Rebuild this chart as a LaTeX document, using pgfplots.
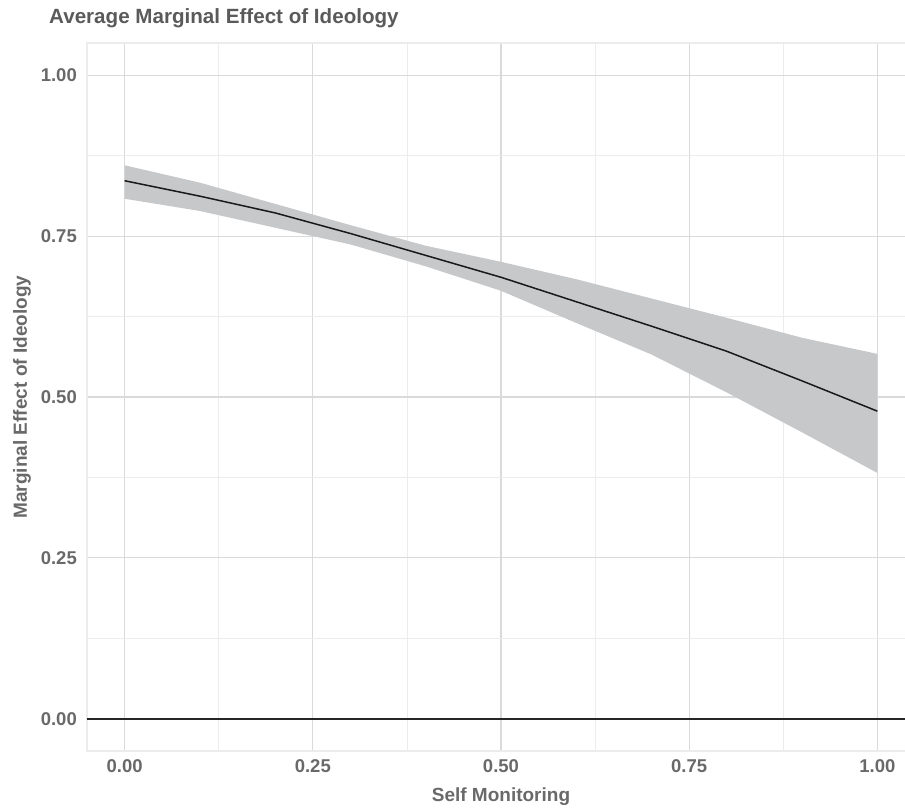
\documentclass[border=0pt]{standalone}
\usepackage{pgfplots}
\pgfplotsset{compat=1.18}
\usepackage{fontspec}
\setmainfont{Liberation Sans}
\definecolor{txt}{RGB}{105,105,105}
\definecolor{ttl}{RGB}{90,90,90}
\definecolor{majg}{RGB}{218,218,218}
\definecolor{ming}{RGB}{236,236,236}
\definecolor{band}{RGB}{199,200,202}
\begin{document}
\begin{tikzpicture}[x=1pt,y=1pt]
\path[use as bounding box] (-87,-57) rectangle (818,751);
\begin{axis}[
  at={(0,0)}, anchor=south west,
  scale only axis, width=828pt, height=708pt,
  xmin=-0.05, xmax=1.05, ymin=-0.05, ymax=1.05,
  xtick={0,0.25,0.5,0.75,1}, ytick={0,0.25,0.5,0.75,1},
  minor xtick={0.125,0.375,0.625,0.875}, minor ytick={0.125,0.375,0.625,0.875},
  xticklabels={0.00,0.25,0.50,0.75,1.00},
  yticklabels={0.00,0.25,0.50,0.75,1.00},
  major tick length=0pt, minor tick length=0pt,
  grid=both,
  major grid style={draw=majg, line width=1.1pt},
  minor grid style={draw=ming, line width=0.7pt},
  axis line style={draw=ming, line width=1.5pt},
  ticklabel style={font=\fontsize{18.5}{22}\selectfont\bfseries, text=txt},
  yticklabel style={anchor=east, inner xsep=0pt, xshift=-10pt},
  xticklabel style={anchor=north, inner ysep=0pt, yshift=-8pt},
  xlabel={Self Monitoring},
  ylabel={Marginal Effect of Ideology},
  label style={font=\fontsize{19}{22}\selectfont\bfseries, text=txt},
  xlabel style={at={(axis description cs:0.5,0)}, anchor=base, yshift=-51pt},
  ylabel style={at={(axis description cs:0,0.5)}, anchor=base, yshift=60pt},
  clip=true,
]
% confidence band: upper then lower reversed
\addplot[fill=band, draw=none] coordinates {
  (0.0,0.860) (0.1,0.833) (0.2,0.800) (0.3,0.767) (0.4,0.735) (0.5,0.710)
  (0.6,0.683) (0.7,0.653) (0.8,0.623) (0.9,0.592) (1.0,0.567)
  (1.0,0.382) (0.9,0.445) (0.8,0.507) (0.7,0.566) (0.6,0.615) (0.5,0.665)
  (0.4,0.703) (0.3,0.737) (0.2,0.763) (0.1,0.789) (0.0,0.808)
} -- cycle;
\addplot[draw=black!90, line width=1.5pt] coordinates {
  (0.0,0.836) (0.1,0.812) (0.2,0.786) (0.3,0.754) (0.4,0.720) (0.5,0.686)
  (0.6,0.648) (0.7,0.610) (0.8,0.571) (0.9,0.525) (1.0,0.478)
};
\addplot[draw=black!85, line width=1.8pt] coordinates {(-0.05,0) (1.05,0)};
\end{axis}
\node[anchor=base west, inner sep=0pt, font=\fontsize{20.6}{24}\selectfont\bfseries, text=ttl] at (-38,727) {Average Marginal Effect of Ideology};
\end{tikzpicture}
\end{document}
